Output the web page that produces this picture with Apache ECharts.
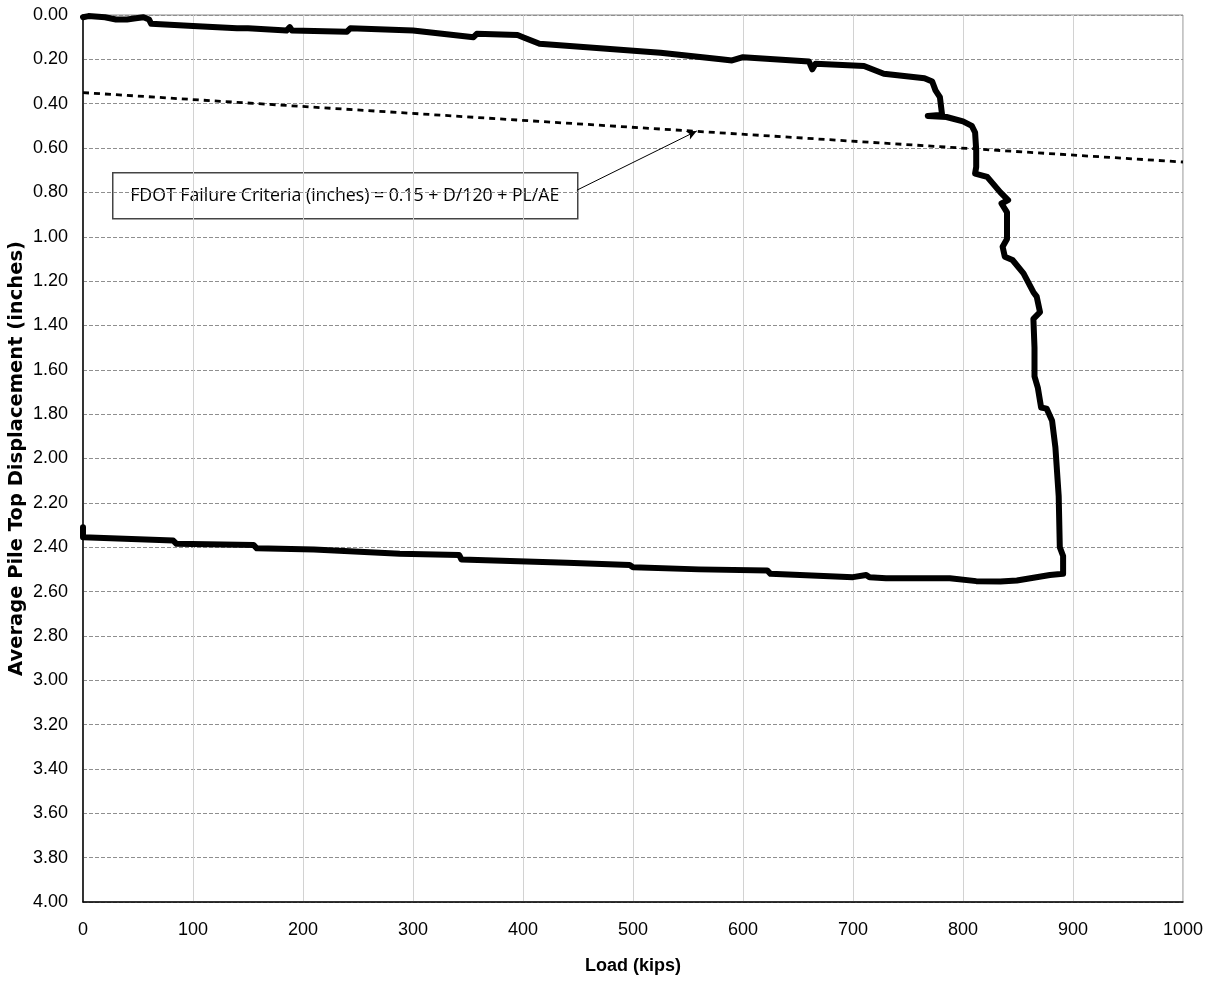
<!DOCTYPE html>
<html>
<head>
<meta charset="utf-8">
<title>Load vs. Average Pile Top Displacement</title>
<script src="https://cdn.jsdelivr.net/npm/echarts@6/dist/echarts.min.js"></script>
<style>
  html, body { margin: 0; padding: 0; background: #fff; }
  #chart { width: 1215px; height: 981px; }
</style>
</head>
<body>
<div id="chart"></div>
<script>
// Load test record: applied load (kips) and average pile top displacement (inches),
// loading branch followed by the unloading branch.
const loadKips = [
  0, 5, 20, 30, 40, 48, 55, 60, 62, 100, 140, 150, 185, 188, 190, 240, 243, 300,
  355, 358, 395, 400, 415, 470, 525, 580, 590, 600, 660, 663, 666, 710, 728, 765,
  772, 775, 779, 781, 768, 785, 800, 808, 811, 812, 812, 811, 822, 834, 841, 835,
  840, 840, 836, 838, 845, 855, 864, 867, 870, 864, 865, 865, 868, 871, 876, 881,
  884, 887, 888, 891, 891,
  879, 849, 834, 812, 788, 730, 715, 712, 700, 625, 622, 560, 500, 497, 440, 344,
  342, 288, 210, 158, 155, 85, 82, 0, 0
];
const displacementIn = [
  0.010, 0.005, 0.010, 0.020, 0.020, 0.015, 0.010, 0.020, 0.040, 0.050, 0.060, 0.060, 0.070, 0.055, 0.070, 0.075, 0.060, 0.070,
  0.100, 0.085, 0.090, 0.100, 0.130, 0.150, 0.170, 0.200, 0.205, 0.190, 0.210, 0.245, 0.220, 0.230, 0.265, 0.285,
  0.300, 0.340, 0.370, 0.450, 0.455, 0.460, 0.480, 0.500, 0.530, 0.610, 0.685, 0.715, 0.730, 0.800, 0.835, 0.850,
  0.890, 1.010, 1.045, 1.090, 1.105, 1.165, 1.250, 1.270, 1.340, 1.370, 1.500, 1.630, 1.680, 1.770, 1.775, 1.830,
  1.950, 2.170, 2.400, 2.440, 2.520,
  2.525, 2.550, 2.555, 2.553, 2.540, 2.540, 2.535, 2.525, 2.535, 2.520, 2.505, 2.500, 2.490, 2.480, 2.470, 2.455,
  2.435, 2.430, 2.410, 2.405, 2.390, 2.385, 2.370, 2.355, 2.310
];

// FDOT failure criterion line
const criterionLoad = [0, 1000];
const criterionDisp = [0.35, 0.663];

// Arrow from the criterion label to the criterion line
const arrowLoad = [449, 558];
const arrowDisp = [0.79, 0.523];

const xTicks = { min: 0, max: 1000, step: 100 };
const yTicks = { min: 0, max: 4, step: 0.2 };

const criterionLabel = 'FDOT Failure Criteria (inches) = 0.15 + D/120 + PL/AE';

const testCurve = loadKips.map((p, i) => [p, displacementIn[i]]);
const criterion = criterionLoad.map((p, i) => [p, criterionDisp[i]]);

const chart = echarts.init(document.getElementById('chart'), null, { renderer: 'canvas' });

const sansFamily = 'Liberation Sans, Arial, sans-serif';
const tickFont = { fontFamily: sansFamily, fontSize: 18, color: '#000' };

chart.setOption({
  backgroundColor: '#fff',
  animation: false,
  grid: {
    left: 83, right: 32, top: 15, bottom: 79,
    outerBoundsMode: 'none',
    containLabel: false,
    show: true, borderColor: '#8a8a8a', borderWidth: 1
  },
  xAxis: {
    type: 'value',
    min: xTicks.min, max: xTicks.max, interval: xTicks.step,
    name: 'Load (kips)',
    nameLocation: 'middle',
    nameGap: 55,
    nameTextStyle: { fontFamily: sansFamily, fontSize: 18, fontWeight: 'bold', color: '#000' },
    axisLine: { show: true, onZero: false, lineStyle: { color: '#000', width: 1.5 } },
    axisTick: { show: false },
    axisLabel: Object.assign({ margin: 19, formatter: v => String(v) }, tickFont),
    splitLine: { show: true, lineStyle: { color: '#d2d2d2', width: 1, type: 'solid' } }
  },
  yAxis: {
    type: 'value',
    inverse: true,
    min: yTicks.min, max: yTicks.max, interval: yTicks.step,
    name: 'Average Pile Top Displacement (inches)',
    nameLocation: 'middle',
    nameGap: 56,
    nameMoveOverlap: false,
    nameRotate: 90,
    nameTextStyle: { fontFamily: 'DejaVu Sans, sans-serif', fontSize: 19.5, fontWeight: 'bold', color: '#000' },
    axisLine: { show: true, onZero: false, lineStyle: { color: '#000', width: 1.5 } },
    axisTick: { show: false },
    axisLabel: Object.assign({ margin: 15, formatter: v => v.toFixed(2) }, tickFont),
    splitLine: { show: true, lineStyle: { color: '#8f8f8f', width: 1, type: [4, 2] } }
  },
  series: [
    {
      name: 'Criterion',
      type: 'line',
      data: criterion,
      symbol: 'none',
      silent: true,
      lineStyle: { color: '#000', width: 2.8, type: [6, 5] },
      z: 3
    },
    {
      name: 'Arrow',
      type: 'line',
      data: [],
      symbol: 'none',
      silent: true,
      markLine: {
        silent: true,
        symbol: ['none', 'arrow'],
        symbolSize: [7, 10],
        label: { show: false },
        lineStyle: { color: '#000', width: 1, type: 'solid' },
        data: [[
          { coord: [arrowLoad[0], arrowDisp[0]] },
          { coord: [arrowLoad[1], arrowDisp[1]] }
        ]]
      },
      z: 4
    },
    {
      name: 'Load test',
      type: 'line',
      data: testCurve,
      symbol: 'none',
      silent: true,
      lineStyle: { color: '#000', width: 6, join: 'round', cap: 'round' },
      z: 5
    }
  ],
  graphic: [
    {
      type: 'group',
      left: 112,
      top: 172,
      z: 10,
      children: [
        {
          type: 'rect',
          shape: { x: 0, y: 0, width: 465, height: 46 },
          style: { fill: '#fff', stroke: '#444', lineWidth: 1.5 }
        },
        {
          type: 'text',
          x: 232, y: 23,
          style: {
            text: criterionLabel,
            fontFamily: 'Open Sans, sans-serif',
            fontSize: 17.7,
            fill: '#000',
            align: 'center',
            verticalAlign: 'middle'
          }
        }
      ]
    }
  ]
});
</script>
</body>
</html>
